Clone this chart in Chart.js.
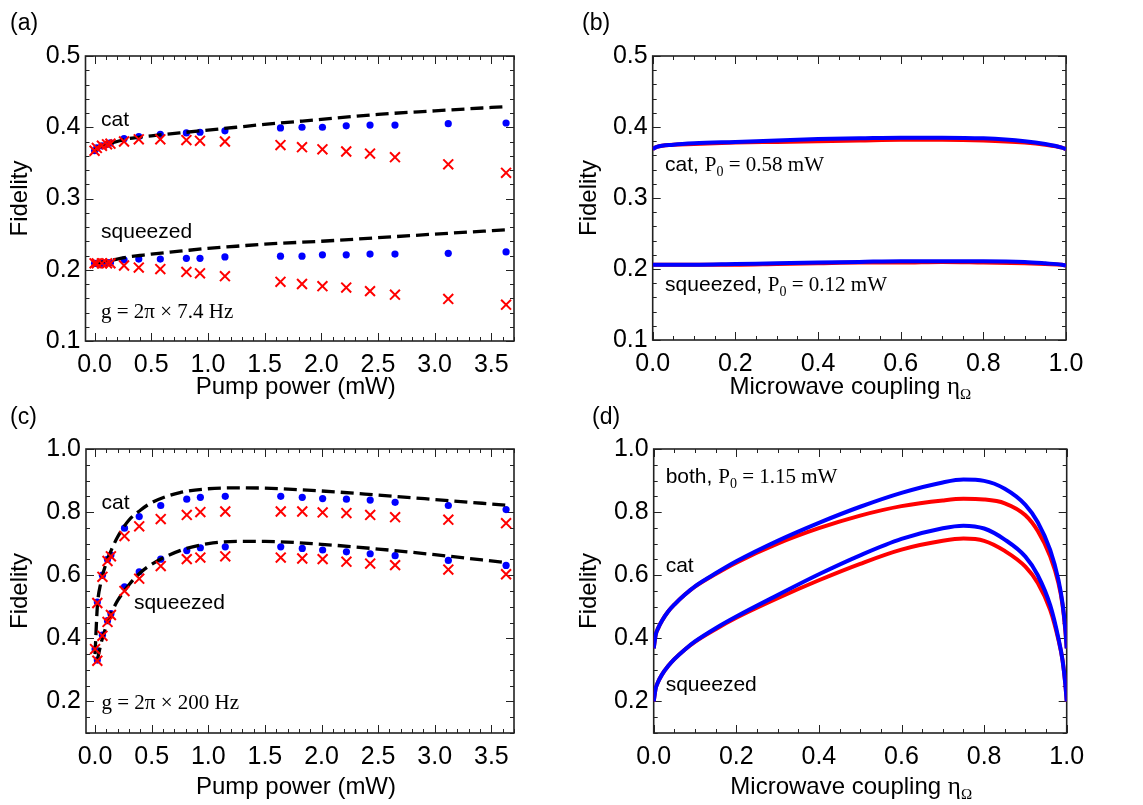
<!DOCTYPE html>
<html>
<head>
<meta charset="utf-8">
<script src="https://cdn.jsdelivr.net/npm/chart.js@4.4.0/dist/chart.umd.min.js"></script>
<style>
  html, body { margin: 0; padding: 0; background: #fff; }
  #page { position: relative; width: 1143px; height: 805px; overflow: hidden; }
  canvas { position: absolute; }
</style>
</head>
<body>
<div id="page">
  <canvas id="chartC" width="571" height="403" style="left:0;top:402px"></canvas>
  <canvas id="chartD" width="572" height="403" style="left:571px;top:402px"></canvas>
  <canvas id="chartA" width="571" height="412" style="left:0;top:0"></canvas>
  <canvas id="chartB" width="572" height="412" style="left:571px;top:0"></canvas>
</div>
<script>
var SANS = '"Liberation Sans", Arial, Helvetica, sans-serif';
var SERIF = '"Liberation Serif", "Times New Roman", Times, serif';

// pump powers (mW) of the plotted points, shared by (a) and (c)
var pumpPoints = [0, 0.02, 0.065, 0.11, 0.14, 0.26, 0.39, 0.58, 0.81, 0.93, 1.15, 1.64, 1.83, 2.01, 2.22, 2.43, 2.65, 3.12, 3.63];
// pump powers sampled along the dashed curves
var pumpTheory = [0, 0.02, 0.05, 0.1, 0.15, 0.2, 0.3, 0.4, 0.5, 0.75, 1.0, 1.25, 1.5, 2.0, 2.5, 3.0, 3.63];

// (a) g = 2pi x 7.4 Hz
var catDotsA   = [0.367, 0.371, 0.374, 0.376, 0.378, 0.384, 0.387, 0.390, 0.392, 0.393, 0.395, 0.399, 0.400, 0.400, 0.402, 0.403, 0.403, 0.405, 0.406];
var catCrossA  = [0.367, 0.371, 0.374, 0.376, 0.377, 0.380, 0.383, 0.383, 0.382, 0.381, 0.380, 0.375, 0.372, 0.369, 0.366, 0.363, 0.358, 0.348, 0.336];
var sqzDotsA   = [0.209, 0.209, 0.209, 0.210, 0.210, 0.214, 0.215, 0.215, 0.216, 0.216, 0.218, 0.219, 0.219, 0.221, 0.221, 0.222, 0.222, 0.223, 0.225];
var sqzCrossA  = [0.209, 0.209, 0.209, 0.209, 0.209, 0.206, 0.203, 0.201, 0.197, 0.195, 0.191, 0.183, 0.180, 0.177, 0.175, 0.170, 0.165, 0.159, 0.151];
var catTheoryA = [0.367, 0.371, 0.373, 0.376, 0.378, 0.380, 0.384, 0.386, 0.388, 0.392, 0.396, 0.400, 0.404, 0.411, 0.418, 0.423, 0.429];
var sqzTheoryA = [0.209, 0.209, 0.210, 0.212, 0.213, 0.215, 0.218, 0.220, 0.222, 0.226, 0.230, 0.233, 0.236, 0.240, 0.245, 0.250, 0.256];

// (c) g = 2pi x 200 Hz
var catDotsC   = [0.366, 0.515, 0.600, 0.650, 0.664, 0.749, 0.786, 0.821, 0.841, 0.847, 0.850, 0.850, 0.847, 0.843, 0.841, 0.838, 0.831, 0.821, 0.808];
var catCrossC  = [0.366, 0.512, 0.595, 0.645, 0.660, 0.724, 0.755, 0.778, 0.791, 0.800, 0.802, 0.802, 0.802, 0.799, 0.797, 0.791, 0.784, 0.776, 0.765];
var sqzDotsC   = [null, 0.331, 0.410, 0.456, 0.478, 0.563, 0.611, 0.651, 0.678, 0.687, 0.690, 0.690, 0.685, 0.680, 0.674, 0.668, 0.662, 0.647, 0.631];
var sqzCrossC  = [null, 0.329, 0.408, 0.452, 0.474, 0.550, 0.589, 0.629, 0.651, 0.656, 0.660, 0.656, 0.653, 0.651, 0.643, 0.637, 0.632, 0.618, 0.603];
var catTheoryC = [0.350, 0.500, 0.575, 0.640, 0.685, 0.722, 0.775, 0.806, 0.830, 0.862, 0.874, 0.877, 0.876, 0.867, 0.854, 0.840, 0.822];
var sqzTheoryC = [null, 0.330, 0.380, 0.440, 0.485, 0.520, 0.570, 0.608, 0.635, 0.678, 0.700, 0.707, 0.707, 0.698, 0.683, 0.665, 0.640];

// (b) microwave coupling sweep, P0 fixed
var etaB     = [0, 0.01, 0.05, 0.1, 0.2, 0.3, 0.4, 0.5, 0.6, 0.7, 0.8, 0.9, 0.95, 0.99, 1.0];
var catBlueB = [0.369, 0.372, 0.375, 0.377, 0.379, 0.381, 0.383, 0.384, 0.385, 0.385, 0.384, 0.380, 0.376, 0.371, 0.369];
var catRedB  = [0.369, 0.372, 0.375, 0.376, 0.378, 0.379, 0.380, 0.381, 0.382, 0.382, 0.381, 0.378, 0.375, 0.371, 0.369];
var sqzBlueB = [0.206, 0.206, 0.206, 0.206, 0.207, 0.208, 0.209, 0.210, 0.211, 0.211, 0.211, 0.210, 0.208, 0.206, 0.205];
var sqzRedB  = [0.206, 0.206, 0.206, 0.206, 0.206, 0.207, 0.208, 0.209, 0.209, 0.210, 0.209, 0.208, 0.207, 0.206, 0.205];

// (d) microwave coupling sweep, P0 = 1.15 mW
var etaD     = [0, 0.005, 0.01, 0.02, 0.035, 0.05, 0.075, 0.1, 0.15, 0.2, 0.3, 0.4, 0.5, 0.6, 0.7, 0.75, 0.8, 0.85, 0.9, 0.93, 0.96, 0.98, 0.99, 0.997, 1.0];
var catBlueD = [0.368, 0.412, 0.430, 0.456, 0.485, 0.507, 0.538, 0.565, 0.606, 0.644, 0.709, 0.766, 0.817, 0.861, 0.894, 0.903, 0.899, 0.874, 0.823, 0.768, 0.680, 0.585, 0.510, 0.425, 0.368];
var catRedD  = [0.368, 0.412, 0.430, 0.456, 0.485, 0.507, 0.538, 0.564, 0.604, 0.640, 0.700, 0.749, 0.789, 0.819, 0.837, 0.842, 0.840, 0.828, 0.790, 0.740, 0.660, 0.575, 0.505, 0.420, 0.368];
var sqzBlueD = [0.200, 0.242, 0.260, 0.285, 0.312, 0.334, 0.364, 0.390, 0.432, 0.469, 0.537, 0.603, 0.663, 0.715, 0.749, 0.757, 0.748, 0.713, 0.659, 0.600, 0.505, 0.400, 0.330, 0.250, 0.200];
var sqzRedD  = [0.200, 0.242, 0.260, 0.285, 0.312, 0.334, 0.364, 0.389, 0.429, 0.465, 0.527, 0.584, 0.636, 0.681, 0.709, 0.716, 0.709, 0.677, 0.627, 0.575, 0.490, 0.395, 0.330, 0.250, 0.200];

// tick labels
var pumpTicks = [0, 0.5, 1.0, 1.5, 2.0, 2.5, 3.0, 3.5];
var etaTicks = [0, 0.2, 0.4, 0.6, 0.8, 1.0];
var fidTicksTop = [0.1, 0.2, 0.3, 0.4, 0.5];
var fidTicksBottom = [0.2, 0.4, 0.6, 0.8, 1.0];

function pts(xs, ys) {
  var out = [];
  for (var i = 0; i < xs.length; i++) {
    if (ys[i] !== null) out.push({x: xs[i], y: ys[i]});
  }
  return out;
}

function dots(xs, ys) {
  return { data: pts(xs, ys), showLine: false, pointStyle: 'circle', pointRadius: 3.6,
           pointBackgroundColor: '#0000ff', pointBorderWidth: 0, order: 3 };
}
function crosses(xs, ys) {
  return { data: pts(xs, ys), showLine: false, pointStyle: 'crossRot', pointRadius: 7,
           pointBorderColor: '#ff0000', pointBorderWidth: 2, order: 1 };
}
function dashed(xs, ys) {
  return { data: pts(xs, ys), showLine: true, pointRadius: 0, borderColor: '#000',
           borderWidth: 3.3, borderDash: [13, 6], cubicInterpolationMode: 'monotone', order: 2 };
}
function curve(xs, ys, color, ord) {
  return { data: pts(xs, ys), showLine: true, pointRadius: 0, borderColor: color,
           borderWidth: 4, cubicInterpolationMode: 'monotone', order: ord };
}

// draw a run of text pieces: [text, font, dy]
function drawParts(ctx, x, y, parts, align) {
  var w = 0, i;
  for (i = 0; i < parts.length; i++) { ctx.font = parts[i][1]; w += ctx.measureText(parts[i][0]).width; }
  var cx = align === 'center' ? x - w / 2 : x;
  ctx.textAlign = 'left';
  ctx.textBaseline = 'alphabetic';
  for (i = 0; i < parts.length; i++) {
    ctx.font = parts[i][1];
    ctx.fillText(parts[i][0], cx, y + (parts[i][2] || 0));
    cx += ctx.measureText(parts[i][0]).width;
  }
}

function makeDeco(s) {
  function each(min, max, minor, major, fn) {
    var k0 = Math.ceil(min / minor - 1e-6), k1 = Math.floor(max / minor + 1e-6);
    for (var k = k0; k <= k1; k++) {
      var v = k * minor;
      var isMajor = Math.abs(v / major - Math.round(v / major)) < 1e-6;
      fn(v, isMajor ? 8 : 4);
    }
  }
  return {
    id: 'deco',
    beforeDatasetsDraw: function(chart) {
      var ctx = chart.ctx, a = chart.chartArea, xs = chart.scales.x, ys = chart.scales.y;
      ctx.save();
      ctx.strokeStyle = '#222';
      ctx.lineWidth = 1;
      ctx.beginPath();
      // inward ticks on all four sides
      each(xs.min, xs.max, s.xMinor, s.xMajor, function(v, len) {
        var px = Math.round(xs.getPixelForValue(v)) + 0.5;
        ctx.moveTo(px, a.bottom); ctx.lineTo(px, a.bottom - len);
        ctx.moveTo(px, a.top); ctx.lineTo(px, a.top + len);
      });
      each(ys.min, ys.max, s.yMinor, s.yMajor, function(v, len) {
        var py = Math.round(ys.getPixelForValue(v)) + 0.5;
        ctx.moveTo(a.left, py); ctx.lineTo(a.left + len, py);
        ctx.moveTo(a.right, py); ctx.lineTo(a.right - len, py);
      });
      ctx.stroke();
      ctx.lineWidth = 1.6;
      ctx.strokeRect(a.left, a.top, a.right - a.left, a.bottom - a.top);
      ctx.restore();
    },
    afterDatasetsDraw: function(chart) {
      var ctx = chart.ctx, a = chart.chartArea, xs = chart.scales.x, ys = chart.scales.y;
      ctx.save();
      ctx.fillStyle = '#000';
      s.notes.forEach(function(n) {
        drawParts(ctx, xs.getPixelForValue(n.x), ys.getPixelForValue(n.y), n.parts, 'left');
      });
      // axis titles
      drawParts(ctx, (a.left + a.right) / 2 + s.xTitleDx, a.bottom + s.xTitleDy, s.xTitle, 'center');
      ctx.save();
      ctx.translate(a.left - s.yTitleDx, (a.top + a.bottom) / 2);
      ctx.rotate(-Math.PI / 2);
      ctx.textAlign = 'center';
      ctx.textBaseline = 'middle';
      ctx.font = '24px ' + SANS;
      ctx.fillText('Fidelity', 0, 0);
      ctx.restore();
      // panel letter
      ctx.font = '23px ' + SANS;
      ctx.textAlign = 'left';
      ctx.textBaseline = 'alphabetic';
      ctx.fillText(s.letter, s.letterX, s.letterY);
      ctx.restore();
    }
  };
}

function makePanel(id, s) {
  var tickFont = { family: SANS, size: 25 };
  return new Chart(document.getElementById(id), {
    type: 'scatter',
    data: { datasets: s.datasets },
    options: {
      responsive: false,
      animation: false,
      events: [],
      layout: { padding: { top: s.padTop, right: s.padRight, bottom: 0, left: 0 } },
      plugins: { legend: { display: false }, tooltip: { enabled: false } },
      scales: {
        x: {
          type: 'linear', min: s.xMin, max: s.xMax,
          grid: { display: false, drawTicks: false }, border: { display: false },
          afterBuildTicks: function(sc) { sc.ticks = s.xTicks.map(function(v) { return { value: v }; }); },
          afterFit: function(sc) { sc.height = s.xHeight; },
          ticks: { padding: 9, color: '#000', font: tickFont, maxRotation: 0, autoSkip: false,
                   callback: function(v) { return v.toFixed(1); } }
        },
        y: {
          type: 'linear', min: s.yMin, max: s.yMax,
          grid: { display: false, drawTicks: false }, border: { display: false },
          afterBuildTicks: function(sc) { sc.ticks = s.yTicks.map(function(v) { return { value: v }; }); },
          afterFit: function(sc) { sc.width = s.yWidth; },
          ticks: { padding: 5, color: '#000', font: tickFont, autoSkip: false,
                   callback: function(v) { return v.toFixed(1); } }
        }
      }
    },
    plugins: [makeDeco(s)]
  });
}

var f21 = '21px ' + SANS, t21 = '21px ' + SERIF, t14 = '14px ' + SERIF;
var pumpTitle = [['Pump power (mW)', '24px ' + SANS]];
var etaTitle = [['Microwave coupling ', '24px ' + SANS], ['\u03b7', '25px ' + SERIF], ['\u03a9', '15px ' + SERIF, 5]];

makePanel('chartA', {
  xMin: -0.08, xMax: 3.7, yMin: 0.1, yMax: 0.5, xTicks: pumpTicks, yTicks: fidTicksTop,
  xMinor: 0.1, xMajor: 0.5, yMinor: 0.02, yMajor: 0.1,
  padTop: 56, padRight: 57, yWidth: 85.5, xHeight: 71,
  xTitle: pumpTitle, xTitleDx: -4, xTitleDy: 53, yTitleDx: 65,
  letter: '(a)', letterX: 10, letterY: 30,
  notes: [
    { x: 0.057, y: 0.402, parts: [['cat', f21]] },
    { x: 0.057, y: 0.244, parts: [['squeezed', f21]] },
    { x: 0.057, y: 0.132, parts: [['g = 2\u03c0 \u00d7 7.4 Hz', t21]] }
  ],
  datasets: [
    dots(pumpPoints, catDotsA), dots(pumpPoints, sqzDotsA),
    crosses(pumpPoints, catCrossA), crosses(pumpPoints, sqzCrossA),
    dashed(pumpTheory, catTheoryA), dashed(pumpTheory, sqzTheoryA)
  ]
});

makePanel('chartB', {
  xMin: 0, xMax: 1, yMin: 0.1, yMax: 0.5, xTicks: etaTicks, yTicks: fidTicksTop,
  xMinor: 0.05, xMajor: 0.2, yMinor: 0.02, yMajor: 0.1,
  padTop: 56, padRight: 77, yWidth: 81.7, xHeight: 72,
  xTitle: etaTitle, xTitleDx: -9, xTitleDy: 54, yTitleDx: 63,
  letter: '(b)', letterX: 11, letterY: 30,
  notes: [
    { x: 0.03, y: 0.3385, parts: [['cat, ', f21], ['P', t21], ['0', t14, 5], [' = 0.58 mW', t21]] },
    { x: 0.03, y: 0.1695, parts: [['squeezed, ', f21], ['P', t21], ['0', t14, 5], [' = 0.12 mW', t21]] }
  ],
  datasets: [
    curve(etaB, catBlueB, '#0000ff', 1), curve(etaB, sqzBlueB, '#0000ff', 1),
    curve(etaB, catRedB, '#ff0000', 2), curve(etaB, sqzRedB, '#ff0000', 2)
  ]
});

makePanel('chartC', {
  xMin: -0.08, xMax: 3.7, yMin: 0.1, yMax: 1.0, xTicks: pumpTicks, yTicks: fidTicksBottom,
  xMinor: 0.1, xMajor: 0.5, yMinor: 0.05, yMajor: 0.2,
  padTop: 47, padRight: 57, yWidth: 86, xHeight: 72,
  xTitle: pumpTitle, xTitleDx: -4, xTitleDy: 61, yTitleDx: 66,
  letter: '(c)', letterX: 10, letterY: 22,
  notes: [
    { x: 0.057, y: 0.809, parts: [['cat', f21]] },
    { x: 0.343, y: 0.492, parts: [['squeezed', f21]] },
    { x: 0.057, y: 0.175, parts: [['g = 2\u03c0 \u00d7 200 Hz', t21]] }
  ],
  datasets: [
    dots(pumpPoints, catDotsC), dots(pumpPoints, sqzDotsC),
    crosses(pumpPoints, catCrossC), crosses(pumpPoints, sqzCrossC),
    dashed(pumpTheory, catTheoryC), dashed(pumpTheory, sqzTheoryC)
  ]
});

makePanel('chartD', {
  xMin: 0, xMax: 1, yMin: 0.1, yMax: 1.0, xTicks: etaTicks, yTicks: fidTicksBottom,
  xMinor: 0.05, xMajor: 0.2, yMinor: 0.05, yMajor: 0.2,
  padTop: 47, padRight: 76.3, yWidth: 82.7, xHeight: 72,
  xTitle: etaTitle, xTitleDx: -9, xTitleDy: 61, yTitleDx: 64,
  letter: '(d)', letterX: 21, letterY: 22,
  notes: [
    { x: 0.029, y: 0.891, parts: [['both, ', f21], ['P', t21], ['0', t14, 5], [' = 1.15 mW', t21]] },
    { x: 0.029, y: 0.611, parts: [['cat', f21]] },
    { x: 0.029, y: 0.233, parts: [['squeezed', f21]] }
  ],
  datasets: [
    curve(etaD, catBlueD, '#0000ff', 1), curve(etaD, sqzBlueD, '#0000ff', 1),
    curve(etaD, catRedD, '#ff0000', 2), curve(etaD, sqzRedD, '#ff0000', 2)
  ]
});
</script>
</body>
</html>
